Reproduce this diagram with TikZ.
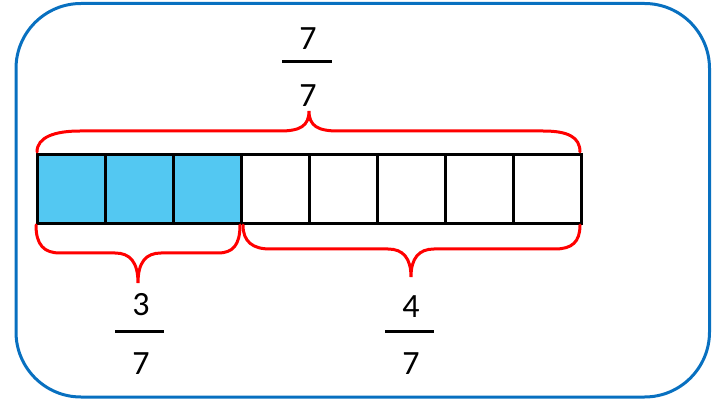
\documentclass[tikz,border=0pt]{standalone}
\usepackage{fontspec}
\setmainfont{Carlito}
\definecolor{frameblue}{HTML}{0870C0}
\definecolor{cellblue}{HTML}{53C8F2}
\definecolor{bracered}{HTML}{FF0000}
\begin{document}
\begin{tikzpicture}[x=1pt,y=-1pt,
  cell/.style={draw=black,line width=3pt,minimum width=68pt,minimum height=69pt,inner sep=0pt,anchor=north west},
  filled/.style={cell,fill=cellblue},
  brace/.style={draw=bracered,line width=3pt,line cap=round},
  digit/.style={font=\fontsize{34}{40}\selectfont,inner sep=0pt,text=black},
  fracbar/.style={draw=black,line width=3pt}]
\useasboundingbox (0,0) rectangle (725,403);
\draw[frameblue,line width=3pt,rounded corners=65pt] (16,3.5) rectangle (709.5,397);
% cells
\foreach \i in {1,2,3}{
  \node[filled] (c\i) at ({36+68*(\i-1)},153) {};
}
\foreach \i in {4,...,8}{
  \node[cell] (c\i) at ({36+68*(\i-1)},153) {};
}
% top brace
\draw[brace] (37,152) .. controls (37,137) and (55,131) .. (80,131)
  -- (280,131) .. controls (300,131) and (309,126) .. (309,111)
  .. controls (309,126) and (318,131) .. (338,131)
  -- (543,131) .. controls (568,131) and (580,137) .. (580,152);
% bottom left brace
\draw[brace] (36,225) .. controls (36,245) and (44,253) .. (60,253)
  -- (115,253) .. controls (130,253) and (138,262) .. (138,283)
  .. controls (138,262) and (146,253) .. (161,253)
  -- (218,253) .. controls (233,253) and (240,245) .. (240,225);
% bottom right brace
\draw[brace] (243,225) .. controls (243,242) and (253,249) .. (270,249)
  -- (388,249) .. controls (403,249) and (411,258) .. (411,277)
  .. controls (411,258) and (419,249) .. (434,249)
  -- (555,249) .. controls (572,249) and (580,242) .. (580,225);
% fractions
\node[digit] (tn) at (308,39) {7};
\node[digit] (td) at (308,96) {7};
\draw[fracbar] (282,62) -- (332,62);
\node[digit] (ln) at (141,305) {3};
\node[digit] (ld) at (141,364) {7};
\draw[fracbar] (115,331) -- (164,331);
\node[digit] (rn) at (411,307) {4};
\node[digit] (rd) at (411,364) {7};
\draw[fracbar] (385,331) -- (434,331);
\end{tikzpicture}
\end{document}
